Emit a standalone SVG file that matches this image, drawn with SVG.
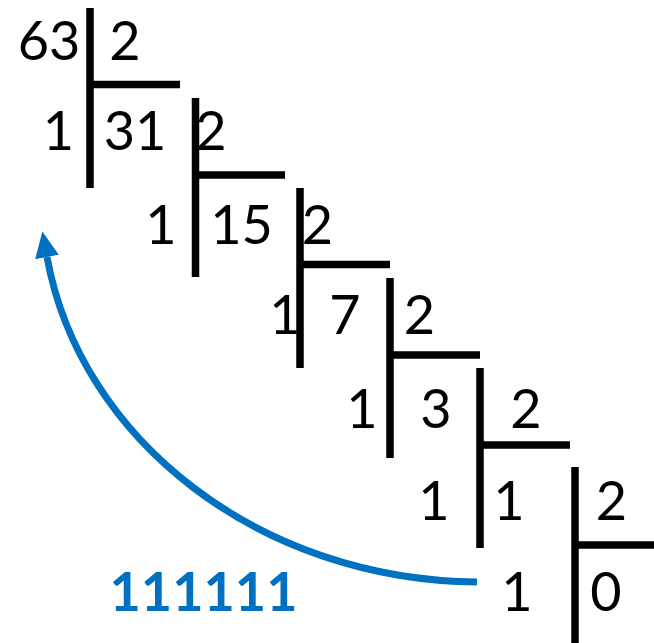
<svg xmlns="http://www.w3.org/2000/svg" width="654" height="643" viewBox="0 0 654 643">
<style>
.n{font-family:Lato,"Liberation Sans",sans-serif;font-size:54px;fill:#000;text-anchor:middle}
.b{font-family:Lato,"Liberation Sans",sans-serif;font-size:54px;font-weight:bold;fill:#0070C0;text-anchor:middle}
.l{stroke:#000;stroke-width:7.5;fill:none}
.arc{stroke:#0070C0;stroke-width:7;fill:none}
</style>
<defs>
<marker id="ah" markerUnits="userSpaceOnUse" markerWidth="30" markerHeight="30" refX="0" refY="12" orient="auto" viewBox="0 0 30 24">
<path d="M0,0 L26,12 L0,24 Z" fill="#0070C0"/>
</marker>
</defs>
<rect width="654" height="643" fill="#fff"/>
<g id="step1">
<path class="l" d="M90,8 V188 M90,84.5 H180"/>
<text class="n" x="49" y="60">63</text>
<text class="n" x="125" y="60">2</text>
</g>
<g id="step2">
<path class="l" d="M195.5,98 V277 M195.5,175 H285"/>
<text class="n" x="58.5" y="150">1</text>
<text class="n" x="135" y="150">31</text>
<text class="n" x="211" y="150">2</text>
</g>
<g id="step3">
<path class="l" d="M300,188 V368 M300,264.5 H390"/>
<text class="n" x="161" y="244">1</text>
<text class="n" x="241.5" y="244">15</text>
<text class="n" x="317.5" y="244">2</text>
</g>
<g id="step4">
<path class="l" d="M390,278 V458 M390,355 H480"/>
<text class="n" x="285" y="334">1</text>
<text class="n" x="345" y="334">7</text>
<text class="n" x="419.5" y="334">2</text>
</g>
<g id="step5">
<path class="l" d="M480,368 V548 M480,445 H570"/>
<text class="n" x="362" y="428">1</text>
<text class="n" x="436" y="428">3</text>
<text class="n" x="526" y="428">2</text>
</g>
<g id="step6">
<path class="l" d="M575,467 V643 M575,545 H654"/>
<text class="n" x="434" y="520">1</text>
<text class="n" x="509" y="520">1</text>
<text class="n" x="611.5" y="520">2</text>
</g>
<g id="step7">
<text class="n" x="517" y="611">1</text>
<text class="n" x="606" y="611">0</text>
</g>
<g id="connectors">
<path class="arc" d="M477,582 C260,580 80,440 47,257" marker-end="url(#ah)"/>
</g>
<g id="result">
<text class="b" x="203.5" y="611">111111</text>
</g>
</svg>
